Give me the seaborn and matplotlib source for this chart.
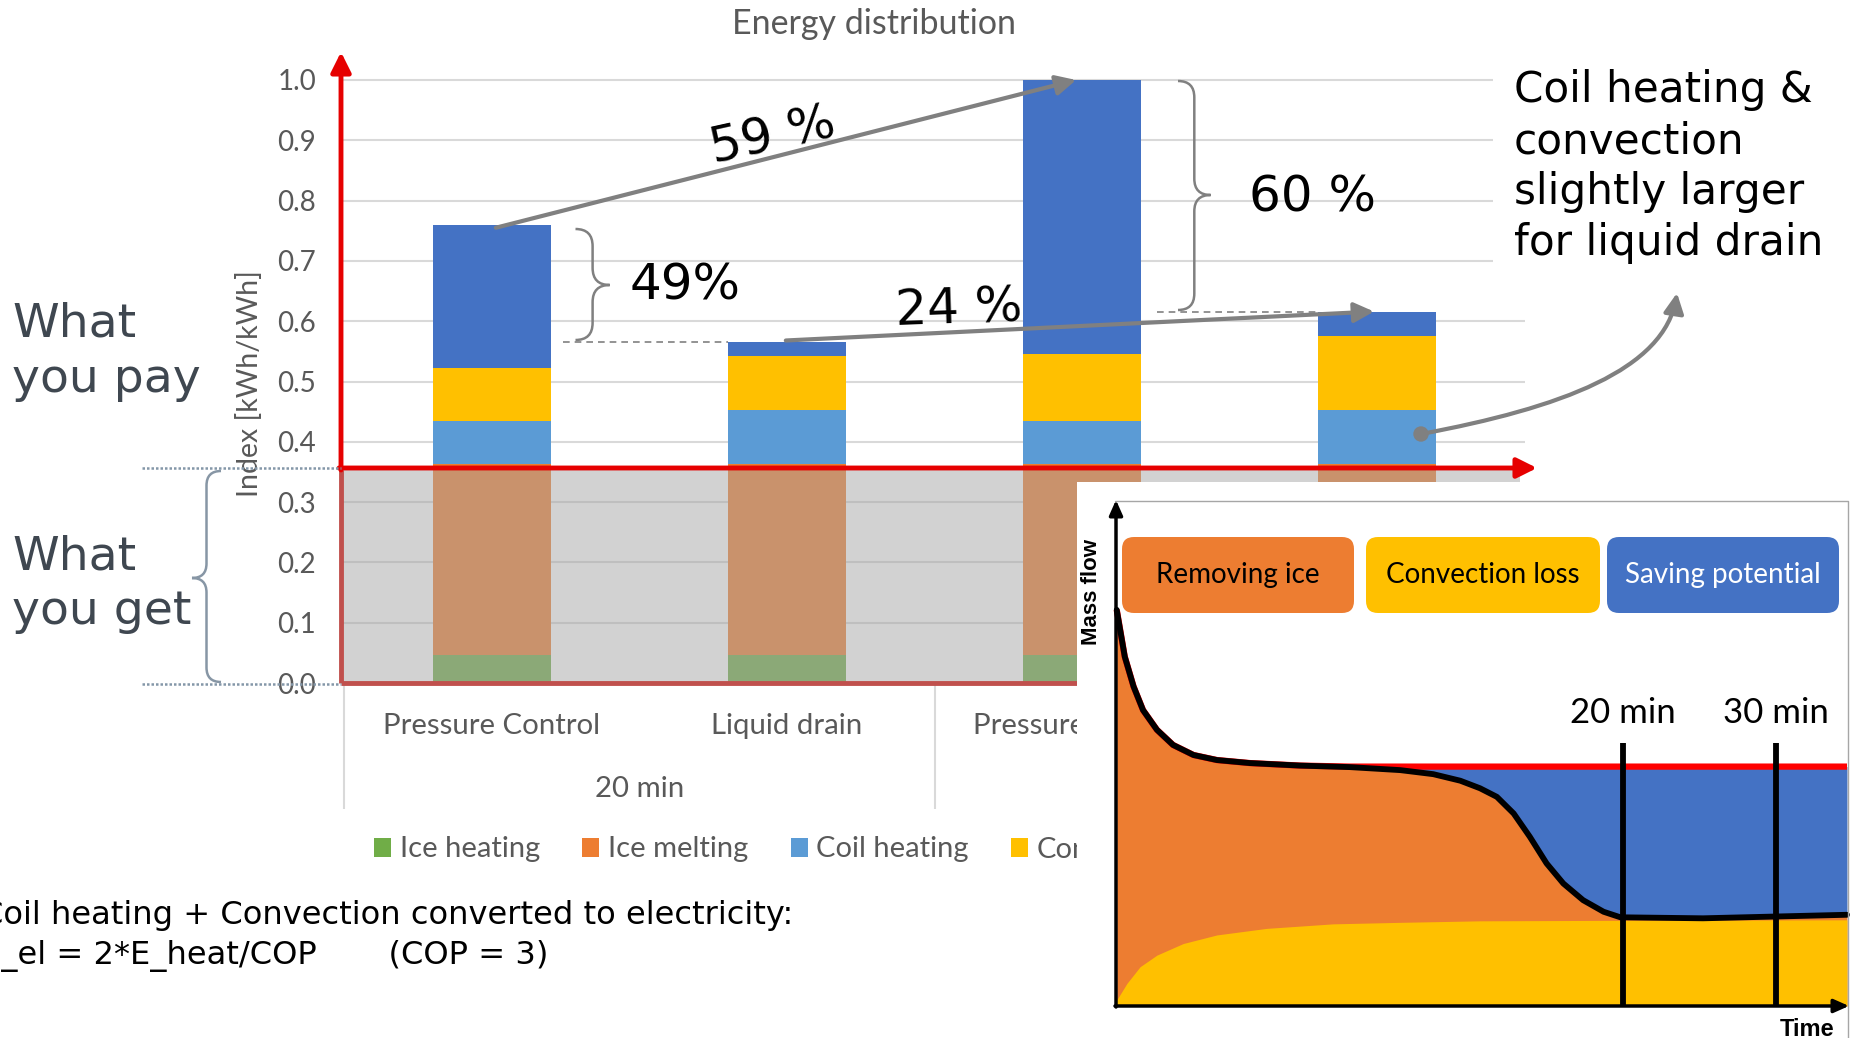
import numpy as np
import matplotlib
matplotlib.use("Agg")
import matplotlib.pyplot as plt
import seaborn as sns
from matplotlib.patches import Rectangle, FancyBboxPatch, PathPatch, Patch, FancyArrowPatch, Circle
from matplotlib.path import Path
from matplotlib.lines import Line2D
from matplotlib.transforms import IdentityTransform

sns.set_theme(style="white")
plt.rcParams['font.family'] = ['Lato', 'DejaVu Sans']

W, H, DPI = 1851, 1038, 100

# ---------------- data: energy distribution ----------------
methods = ["Pressure Control", "Liquid drain", "Pressure Control", "Liquid drain"]
durations = ["20 min", "20 min", "30 min", "30 min"]
ice_heating = [0.046, 0.046, 0.046, 0.046]
ice_melting = [0.318, 0.318, 0.318, 0.318]
coil_heating = [0.070, 0.088, 0.070, 0.088]
convection = [0.088, 0.090, 0.111, 0.124]
saving = [0.238, 0.024, 0.455, 0.040]
series_names = ["Ice heating", "Ice melting", "Coil heating", "Convection", "Saving potential"]
series_colors = ["#70AD47", "#ED7D31", "#5B9BD5", "#FFC000", "#4472C4"]
y_ticks = [0.0, 0.1, 0.2, 0.3, 0.4, 0.5, 0.6, 0.7, 0.8, 0.9, 1.0]
duration_groups = ["20 min", "30 min"]

# ---------------- data: mass flow sketch ----------------
t_total = [0.001, 0.012, 0.024, 0.037, 0.056, 0.078, 0.106, 0.138, 0.183, 0.252,
           0.320, 0.389, 0.434, 0.471, 0.498, 0.521, 0.544, 0.566, 0.589, 0.612,
           0.639, 0.667, 0.690, 0.803, 1.0]
flow_total = [0.786, 0.693, 0.634, 0.587, 0.548, 0.518, 0.498, 0.488, 0.482, 0.477,
              0.474, 0.468, 0.460, 0.447, 0.432, 0.415, 0.382, 0.336, 0.283, 0.243,
              0.210, 0.187, 0.176, 0.174, 0.181]
flow_supply = [0.786, 0.693, 0.634, 0.587, 0.548, 0.518, 0.498, 0.488, 0.482, 0.477,
               0.475, 0.475, 0.475, 0.475, 0.475, 0.475, 0.475, 0.475, 0.475, 0.475,
               0.475, 0.475, 0.475, 0.475, 0.475]
t_conv = [0.0, 0.001, 0.015, 0.033, 0.056, 0.092, 0.138, 0.206, 0.297, 0.389, 0.498, 0.694, 1.0]
flow_conv = [0.0, 0.012, 0.045, 0.078, 0.101, 0.124, 0.141, 0.154, 0.163, 0.166, 0.169, 0.170, 0.171]
marker_times = [0.694, 0.903]
marker_labels = ["20 min", "30 min"]
marker_top = 0.521
box_labels = ["Removing ice", "Convection loss", "Saving potential"]
box_colors = ["#ED7D31", "#FFC000", "#4472C4"]
box_text_colors = ["black", "black", "white"]

GREY_TXT = "#595959"
RED = "#E60000"
ARROW_GREY = "#808080"


def fx(px):
    return px / W


def fy(py):
    return 1 - py / H


def pix(px, py):
    return (px, H - py)


fig = plt.figure(figsize=(W / DPI, H / DPI), dpi=DPI)
fig.patch.set_facecolor("white")

# ---------------- main stacked bar chart ----------------
ax = fig.add_axes([fx(341), fy(683), 1183.5 / W, 609 / H])
ax.set_zorder(1)
keys = [f"{m} | {d}" for m, d in zip(methods, durations)]
layers = np.vstack([ice_heating, ice_melting, coil_heating, convection, saving])
cum = np.cumsum(layers, axis=0)
for k in range(len(series_names) - 1, -1, -1):
    sns.barplot(x=keys, y=cum[k], color=series_colors[k], width=0.4, saturation=1,
                errorbar=None, linewidth=0, edgecolor="none", ax=ax, zorder=2)

ax.set_xlim(-0.5119, 3.5)
ax.set_ylim(0, 609 / 603)
ax.set_xticks([])
ax.set_xlabel("")
ax.set_ylabel("")
ax.set_yticks(y_ticks)
ax.set_yticklabels([f"{v:.1f}" for v in y_ticks])
ax.tick_params(axis="y", length=0, pad=18, labelsize=20, labelcolor=GREY_TXT)
for s in ax.spines.values():
    s.set_visible(False)
ax.yaxis.grid(True, color="#D9D9D9", lw=1.5)
ax.set_axisbelow(True)

# shaded "what you get" band
ax.add_patch(Rectangle((-0.5119, 0), 3.485 + 0.5119, 0.353, facecolor="#A7A7A7",
                       alpha=0.5, edgecolor="none", zorder=3))
ax.plot([-0.5119, 3.485], [0, 0], color="#C0504D", lw=3.5, zorder=4,
        clip_on=False, solid_capstyle="butt")
ax.plot([-0.5119, -0.5119], [0, 0.353], color="#C0504D", lw=3.5, zorder=4,
        clip_on=False, solid_capstyle="butt")

# multi-level category axis
xt = ax.get_xaxis_transform()
for i, m in enumerate(methods):
    ax.text(i, (683 - 726) / 609, m, transform=xt, ha="center", va="center",
            fontsize=21.2, color=GREY_TXT, clip_on=False)
for g, lab in enumerate(duration_groups):
    ax.text(0.5 + 2 * g, (683 - 789) / 609, lab, transform=xt, ha="center",
            va="center", fontsize=21.2, color=GREY_TXT, clip_on=False)
ax.vlines([-0.503, 1.5, 3.5], (683 - 809) / 609, 0, transform=xt, color="#D9D9D9",
          lw=1.5, clip_on=False)

# change arrows between runs
arrow_kw = dict(arrowstyle="-|>,head_length=12,head_width=6", mutation_scale=1,
                color=ARROW_GREY, lw=3, shrinkA=0, shrinkB=0)
tot = cum[-1]
ax.annotate("", xy=(1.98, tot[2]), xytext=(0.013, tot[0] - 0.005),
            arrowprops=arrow_kw, annotation_clip=False, zorder=6)
ax.annotate("", xy=(2.99, tot[3]), xytext=(0.996, tot[1] + 0.002),
            arrowprops=arrow_kw, annotation_clip=False, zorder=6)
ax.plot([0.24, 0.8], [tot[1], tot[1]], ls=(0, (4, 3)), color=ARROW_GREY, lw=1.2, zorder=5)
ax.plot([2.254, 2.8], [tot[3], tot[3]], ls=(0, (4, 3)), color=ARROW_GREY, lw=1.2, zorder=5)

# red axis arrows
red_kw = dict(arrowstyle="-|>,head_length=12,head_width=6", mutation_scale=1,
              color=RED, lw=3.5, shrinkA=0, shrinkB=0)
ax.annotate("", xy=pix(341, 52), xytext=pix(341, 470), xycoords="figure pixels",
            textcoords="figure pixels", arrowprops=red_kw, annotation_clip=False, zorder=7)
ax.annotate("", xy=pix(1537, 468), xytext=pix(339, 468), xycoords="figure pixels",
            textcoords="figure pixels", arrowprops=red_kw, annotation_clip=False, zorder=7)


def brace(x_end, x_tip, y_top, y_bot, y_mid, color, lw):
    xm = (x_end + x_tip) / 2
    r = abs(x_tip - x_end) * 0.5
    v = [(x_end, y_top), (xm, y_top), (xm, y_top + r), (xm, y_mid - r),
         (xm, y_mid), (x_tip, y_mid), (xm, y_mid), (xm, y_mid + r),
         (xm, y_bot - r), (xm, y_bot), (x_end, y_bot)]
    v = [(a, H - b) for a, b in v]
    c = [Path.MOVETO, Path.CURVE3, Path.CURVE3, Path.LINETO, Path.CURVE3, Path.CURVE3,
         Path.CURVE3, Path.CURVE3, Path.LINETO, Path.CURVE3, Path.CURVE3]
    fig.add_artist(PathPatch(Path(v, c), transform=IdentityTransform(), fill=False,
                             edgecolor=color, lw=lw, zorder=5))


brace(575.5, 609.7, 229, 340, 285, ARROW_GREY, 1.8)
brace(1178, 1210.6, 81, 310, 195, ARROW_GREY, 1.8)
brace(221, 192, 471, 682, 578, "#8796A5", 1.8)

# dotted guides on the left
for yy in (468, 683.5):
    fig.add_artist(Line2D([fx(142), fx(341)], [fy(yy), fy(yy)], ls=(0, (1, 0.8)),
                          lw=1.8, color="#8497A8", zorder=5))

# white panel behind the side note
fig.add_artist(Rectangle((fx(1493), fy(300)), 1 - fx(1493), (300 - 40) / H,
                         facecolor="white", edgecolor="none", zorder=2))

# ---------------- texts ----------------
fig.text(fx(873.6), fy(23.6), "Energy distribution", ha="center", va="center",
         fontsize=24.5, color=GREY_TXT)
fig.text(fx(249), fy(384), "Index [kWh/kWh]", rotation=90, ha="center", va="center",
         fontsize=20.5, color=GREY_TXT)

dv = dict(family="DejaVu Sans")
left_col = "#3F4750"
for txt, py in (("What", 336), ("you pay", 392), ("What", 569), ("you get", 624)):
    fig.text(fx(12), fy(py), txt, ha="left", va="baseline", fontsize=34,
             color=left_col, **dv)

fig.text(fx(773), fy(136), "59 %", rotation=12.5, rotation_mode="anchor", ha="center",
         va="center", fontsize=36, color="black", **dv, zorder=6)
fig.text(fx(685), fy(285), "49%", ha="center", va="center", fontsize=36,
         color="black", **dv, zorder=6)
fig.text(fx(959), fy(309), "24 %", rotation=2, rotation_mode="anchor", ha="center",
         va="center", fontsize=36, color="black", **dv, zorder=6)
fig.text(fx(1312), fy(197.5), "60 %", ha="center", va="center", fontsize=36,
         color="black", **dv, zorder=6)

note_lines = ["Coil heating &", "convection", "slightly larger", "for liquid drain"]
for txt, py in zip(note_lines, (101.7, 154, 204, 255)):
    fig.text(fx(1514), fy(py), txt, ha="left", va="baseline", fontsize=30.3,
             color="black", **dv, zorder=4)

fig.text(fx(-19), fy(924), "Coil heating + Convection converted to electricity:",
         ha="left", va="baseline", fontsize=23.1, color="black", **dv)
fig.text(fx(-19), fy(963.7), "E_el = 2*E_heat/COP       (COP = 3)",
         ha="left", va="baseline", fontsize=23.1, color="black", **dv)

# curved pointer to the coil heating share of the last bar
A, C1, C2, B = (1421, 434), (1560, 408), (1665, 370), (1677, 293)
curve = Path([pix(*A), pix(*C1), pix(*C2), pix(*B)],
             [Path.MOVETO, Path.CURVE4, Path.CURVE4, Path.CURVE4])
fig.add_artist(FancyArrowPatch(path=curve, arrowstyle="-|>,head_length=12,head_width=6",
                               mutation_scale=1, color=ARROW_GREY, lw=3,
                               transform=IdentityTransform(), zorder=6))
fig.add_artist(Circle(pix(*A), 7, transform=IdentityTransform(), color=ARROW_GREY, zorder=6))

# legend
handles = [Patch(facecolor=c, edgecolor="none") for c in series_colors]
fig.legend(handles, series_names, loc="center left", bbox_to_anchor=(fx(348), fy(849.5)),
           ncol=5, frameon=False, fontsize=21, handlelength=0.58, handleheight=0.62,
           handletextpad=0.3, columnspacing=1.45, labelcolor=GREY_TXT, borderpad=0.4)

# ---------------- mass-flow sketch ----------------
bg = fig.add_axes([fx(1077), 0, 1 - fx(1077), (H - 482) / H])
bg.set_zorder(10)
bg.set_facecolor("white")
bg.set_xticks([])
bg.set_yticks([])
for s in bg.spines.values():
    s.set_visible(False)

ins = fig.add_axes([fx(1116), fy(1006), (1847 - 1116) / W, (1006 - 502) / H])
ins.set_zorder(11)
ins.patch.set_alpha(0)
ins.set_xlim(0, 1)
ins.set_ylim(0, 1)
ins.axis("off")

ins.fill_between(t_total, flow_total, flow_supply, color="#4472C4", lw=0, zorder=1)
ins.fill_between(t_total, 0, flow_total, color="#ED7D31", lw=0, zorder=2)
ins.fill_between(t_conv, 0, flow_conv, color="#FFC000", lw=0, zorder=3)
ins.plot(t_total, flow_supply, color="#FF0000", lw=4.5, zorder=4, clip_on=False,
         solid_capstyle="butt")
sns.lineplot(x=t_total, y=flow_total, color="black", lw=4.2, ax=ins, zorder=5,
             sort=False, clip_on=False)
ins.axis("off")
for t, lab in zip(marker_times, marker_labels):
    ins.plot([t, t], [0, marker_top], color="black", lw=4.2, zorder=6,
             solid_capstyle="butt")
    ins.text(t, 0.562, lab, ha="center", va="baseline", fontsize=25, color="black")

ax_kw = dict(arrowstyle="-|>,head_length=9,head_width=4", mutation_scale=1,
             color="black", lw=2.5, shrinkA=0, shrinkB=0)
ins.annotate("", xy=pix(1116, 500), xytext=pix(1116, 1007), xycoords="figure pixels",
             textcoords="figure pixels", arrowprops=ax_kw, annotation_clip=False, zorder=8)
ins.annotate("", xy=pix(1849, 1006), xytext=pix(1115, 1006), xycoords="figure pixels",
             textcoords="figure pixels", arrowprops=ax_kw, annotation_clip=False, zorder=8)

fig.add_artist(Line2D([fx(1115), fx(1848), fx(1848)], [fy(500.5), fy(500.5), fy(1040)],
                      color="#A6A6A6", lw=1, zorder=12))

for (x0, x1), lab, fc, tc in zip([(1122, 1354), (1366, 1600), (1607, 1839)],
                                 box_labels, box_colors, box_text_colors):
    y0, y1 = 537, 613
    fig.add_artist(FancyBboxPatch(pix(x0, y1), x1 - x0, y1 - y0,
                                  boxstyle="round,pad=0,rounding_size=12", mutation_scale=1,
                                  facecolor=fc, edgecolor="none",
                                  transform=IdentityTransform(), zorder=12))
    fig.text(fx((x0 + x1) / 2), fy((y0 + y1) / 2), lab, ha="center", va="center",
             fontsize=20, color=tc, zorder=13)

fig.text(fx(1091), fy(592), "Mass flow", rotation=90, ha="center", va="center",
         fontsize=16, fontweight="bold", family="Liberation Sans", color="black", zorder=13)
fig.text(fx(1807), fy(1036), "Time", ha="center", va="baseline", fontsize=17,
         fontweight="bold", family="Liberation Sans", color="black", zorder=13)

fig.savefig("out.png", dpi=DPI)
